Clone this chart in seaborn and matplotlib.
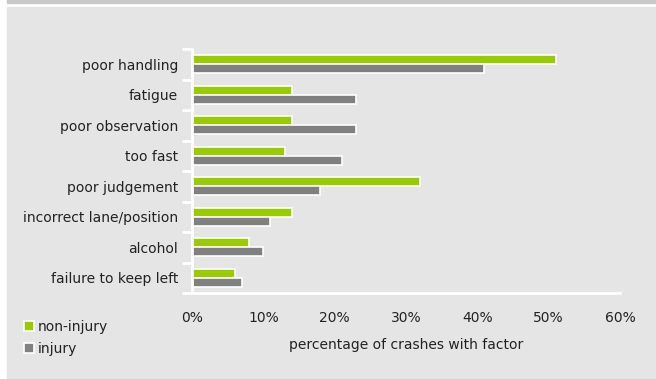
import matplotlib
matplotlib.use("Agg")
import matplotlib.pyplot as plt
import seaborn as sns
import pandas as pd
from matplotlib.patches import Rectangle
from matplotlib.ticker import FuncFormatter, FixedLocator

categories = ["poor handling", "fatigue", "poor observation", "too fast",
              "poor judgement", "incorrect lane/position", "alcohol",
              "failure to keep left"]
non_injury = [51, 14, 14, 13, 32, 14, 8, 6]
injury = [41, 23, 23, 21, 18, 11, 10, 7]
series = ["non-injury", "injury"]
colors = ["#99cc00", "#808080"]

df = pd.DataFrame({
    "factor": categories * 2,
    "value": non_injury + injury,
    "series": [series[0]] * len(categories) + [series[1]] * len(categories),
})

sns.set_style("white")
plt.rcParams["font.family"] = ["DejaVu Sans"]

W, H = 656, 379
FS = 10
fig = plt.figure(figsize=(W / 100, H / 100), dpi=100, facecolor="white")
fig.patches.append(Rectangle((7 / W, -0.01), 1.01 - 7 / W, (H - 7) / H + 0.01,
                             transform=fig.transFigure, color="#e5e5e5", zorder=-10))
fig.patches.append(Rectangle((7 / W, (H - 3) / H), 1.01 - 7 / W, 3.5 / H,
                             transform=fig.transFigure, color="#c8c8c8", zorder=-10))

ax = fig.add_axes([192 / W, 1 - 293 / H, (620 - 192) / W, (293 - 49) / H])
ax.set_facecolor("none")
ax.set_zorder(5)

sns.barplot(data=df, y="factor", x="value", hue="series", order=categories,
            hue_order=series, palette=colors, saturation=1, orient="h", width=0.6,
            edgecolor="white", linewidth=1.2, ax=ax, legend=False)

ax.set_xlim(0, 60)
ax.set_ylim(len(categories) - 0.5, -0.5)
ax.xaxis.set_major_locator(FixedLocator([0, 10, 20, 30, 40, 50, 60]))
ax.xaxis.set_major_formatter(FuncFormatter(lambda v, p: f"{int(v)}%"))
ax.tick_params(axis="x", length=0, labelsize=FS, colors="#222222", pad=13)
ax.tick_params(axis="y", which="major", length=0, labelsize=FS, colors="#222222", pad=10)
ax.set_yticks([i - 0.5 for i in range(len(categories) + 1)], minor=True)
ax.tick_params(axis="y", which="minor", left=True, length=7, width=2, color="white")

for s in ["top", "right"]:
    ax.spines[s].set_visible(False)
for s in ["left", "bottom"]:
    ax.spines[s].set_color("white")
    ax.spines[s].set_linewidth(2)

ax.set_ylabel("")
ax.set_xlabel("percentage of crashes with factor", fontsize=FS, color="#222222", labelpad=9)

handles = [Rectangle((0, 0), 1, 1, facecolor=c, edgecolor="white", linewidth=1.2)
           for c in colors]
leg = fig.legend(handles, series, loc="upper left", bbox_to_anchor=(24 / W, 1 - 320 / H),
                 frameon=False, fontsize=FS, handlelength=0.75, handleheight=0.75,
                 handletextpad=0.25, labelspacing=0.55, borderaxespad=0, borderpad=0)
for t in leg.get_texts():
    t.set_color("#222222")

fig.savefig("out.png", dpi=100, facecolor=fig.get_facecolor())
